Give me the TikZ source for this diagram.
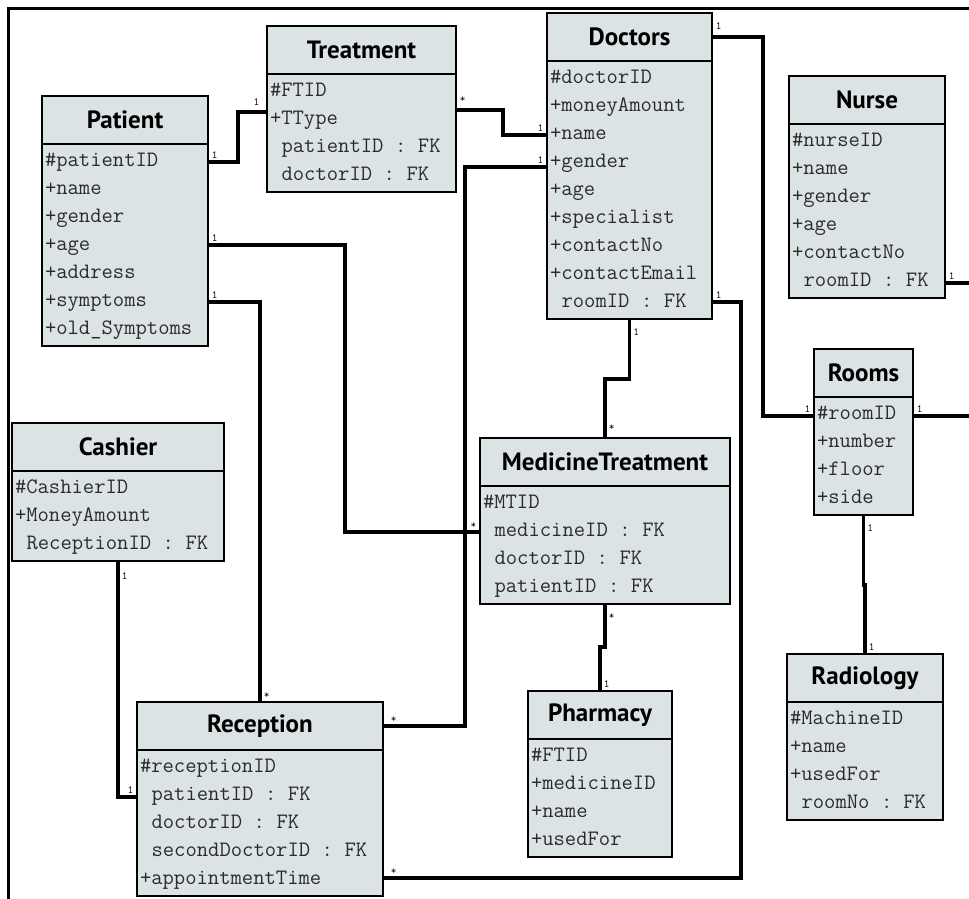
\documentclass[tikz,border=0pt]{standalone}
\usepackage{fontspec}
\newfontfamily\headfont{PT Sans}
\usepackage{tikz}
\usetikzlibrary{positioning}
\definecolor{BoxFill}{HTML}{DCE3E5}
\definecolor{AttrInk}{HTML}{2B2B2B}

\tikzset{
  hd/.style={draw, line width=2pt, fill=BoxFill, outer sep=0pt, inner sep=0pt,
    minimum width=#1, minimum height=48pt,
    font=\headfont\bfseries\fontsize{25}{30}\selectfont},
  bd/.style={draw, line width=2pt, fill=BoxFill, outer sep=0pt, inner xsep=0pt, inner ysep=3pt,
    minimum width=#1, text width=#1, align=left, text=AttrInk,
    font=\ttfamily\fontsize{22}{28}\selectfont,
    execute at begin node={\leftskip=3pt\spaceskip=0.525em\relax\strut}, execute at end node=\strut},
  link/.style={line width=3.5pt},
  card/.style={inner sep=2pt, font=\ttfamily\fontsize{11}{12}\selectfont},
  frame/.style={line width=3pt}
}

\begin{document}
\begin{tikzpicture}[x=1pt, y=-1pt]
    \useasboundingbox (0,0) rectangle (969,899);
    \draw[frame] (969,9) -- (8,9) -- (8,899);

    % classes
    \node[hd=166pt, anchor=north west] (patientH) at (42,96) {Patient};
    \node[bd=166pt, below=0pt of patientH] (patientB) {\#patientID\\+name\\+gender\\+age\\+address\\+symptoms\\+old\_Symptoms};

    \node[hd=189pt, anchor=north west] (treatH) at (267,26) {Treatment};
    \node[bd=189pt, below=0pt of treatH] (treatB) {\#FTID\\+TType\\~patientID : FK\\~doctorID : FK};

    \node[hd=165pt, anchor=north west] (doctorsH) at (547,13) {Doctors};
    \node[bd=165pt, below=0pt of doctorsH] (doctorsB) {\#doctorID\\+moneyAmount\\+name\\+gender\\+age\\+specialist\\+contactNo\\+contactEmail\\~roomID : FK};

    \node[hd=156pt, anchor=north west] (nurseH) at (789,76) {Nurse};
    \node[bd=156pt, below=0pt of nurseH] (nurseB) {\#nurseID\\+name\\+gender\\+age\\+contactNo\\~roomID : FK};

    \node[hd=99pt, anchor=north west] (roomsH) at (814,349) {Rooms};
    \node[bd=99pt, below=0pt of roomsH] (roomsB) {\#roomID\\+number\\+floor\\+side};

    \node[hd=212pt, anchor=north west] (cashierH) at (12,423) {Cashier};
    \node[bd=212pt, below=0pt of cashierH] (cashierB) {\#CashierID\\+MoneyAmount\\~ReceptionID : FK};

    \node[hd=250pt, anchor=north west] (mtH) at (480,438) {MedicineTreatment};
    \node[bd=250pt, below=0pt of mtH] (mtB) {\#MTID\\~medicineID : FK\\~doctorID : FK\\~patientID : FK};

    \node[hd=246pt, anchor=north west] (receptionH) at (137,702) {Reception};
    \node[bd=246pt, below=0pt of receptionH] (receptionB) {\#receptionID\\~patientID : FK\\~doctorID : FK\\~secondDoctorID : FK\\+appointmentTime};

    \node[hd=144pt, anchor=north west] (pharmH) at (528,691) {Pharmacy};
    \node[bd=144pt, below=0pt of pharmH] (pharmB) {\#FTID\\+medicineID\\+name\\+usedFor};

    \node[hd=156pt, anchor=north west] (radioH) at (787,654) {Radiology};
    \node[bd=156pt, below=0pt of radioH] (radioB) {\#MachineID\\+name\\+usedFor\\~roomNo : FK};

    % associations
    \draw[link] ([yshift=-18pt]patientB.north east) node[card, above right] (c1a) {1}
        -- ++(30,0) |- ([yshift=-38pt]treatB.north west) node[card, above left, xshift=-4pt, yshift=3pt] (c1b) {1};
    \draw[link] ([yshift=-36pt]treatB.north east) node[card, above right, yshift=4pt] (c2a) {*}
        -- ++(47,0) |- ([yshift=-74pt]doctorsB.north west) node[card, above left] (c2b) {1};
    \draw[link] ([yshift=-106pt]doctorsB.north west) node[card, above left] (c3a) {1}
        -- ++(-82,0) |- (receptionH.east) node[card, above right, xshift=4pt] (c3b) {*};
    \draw[link] ([yshift=-101pt]patientB.north east) node[card, above right] (c4a) {1}
        -- ++(137,0) |- ([yshift=-46pt]mtB.north west) node[card, above left] (c4b) {*};
    \draw[link] ([yshift=-158pt]patientB.north east) node[card, above right] (c5a) {1}
        -| (receptionH.north) node[card, above right] (c5b) {*};
    \draw[link] (cashierB.south) node[card, below right, yshift=-8pt] (c6a) {1}
        |- ([yshift=-47pt]receptionB.north west) node[card, above left] (c6b) {1};
    \draw[link] (doctorsB.south) node[card, below right, yshift=-6pt] (c7a) {1}
        -- ++(0,60) -| (mtH.north) node[card, above right, yshift=4pt] (c7b) {*};
    \draw[link] ([yshift=-241pt]doctorsB.north east) node[card, above right] (c8a) {1}
        -- ++(29,0) |- ([yshift=-128pt]receptionB.north east) node[card, above right, xshift=4pt] (c8b) {*};
    \draw[link] (doctorsH.east) node[card, above right, yshift=4pt] (c9a) {1}
        -- ++(51,0) |- ([yshift=-19pt]roomsB.north west) node[card, above left] (c9b) {1};
    \draw[link] (mtB.south) node[card, below right, yshift=-6pt] (c12a) {*}
        -- ++(0,43) -| (pharmH.north) node[card, above right] (c12b) {1};
    \draw[link] (roomsB.south) node[card, below right, yshift=-6pt] (c13a) {1}
        -- ++(0,70) -| (radioH.north) node[card, above right] (c13b) {1};

    % off to the right edge
    \coordinate (edgeN) at (969,283);
    \coordinate (edgeR) at (969,416);
    \draw[link] ([yshift=-159pt]nurseB.north east) node[card, above right] (c10a) {1} -- (edgeN);
    \draw[link] ([yshift=-19pt]roomsB.north east) node[card, above right] (c11a) {1} -- (edgeR);
\end{tikzpicture}
\end{document}
